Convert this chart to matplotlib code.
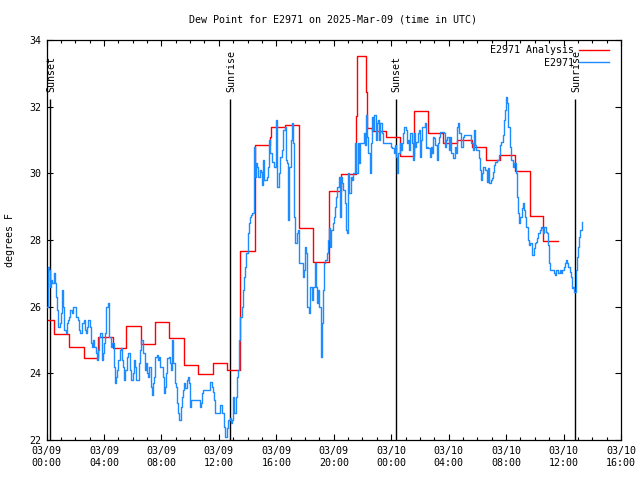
import numpy as np
import matplotlib
matplotlib.use("Agg")
import matplotlib.pyplot as plt

# E2971 dew point observations, 5 minute spacing from 03/09 00:00 UTC (one row per hour)
dew_obs = [
    26.0, 27.2, 27.1, 26.6, 26.8, 26.7, 27.0, 26.7, 26.3, 25.9, 25.4, 25.5,
    25.8, 26.5, 26.0, 25.3, 25.2, 25.5, 25.6, 25.7, 25.9, 25.8, 26.0, 26.0,
    26.0, 25.7, 25.6, 25.3, 25.2, 25.2, 25.5, 25.6, 25.3, 25.2, 25.4, 25.6,
    25.4, 24.9, 24.8, 25.0, 24.8, 24.6, 24.4, 24.7, 25.1, 25.2, 24.4, 24.6,
    24.9, 25.2, 26.0, 26.1, 25.1, 25.1, 24.8, 24.9, 24.2, 23.7, 23.9, 24.1,
    24.4, 24.7, 24.75, 24.4, 24.2, 23.8, 24.1, 24.5, 24.6, 24.6, 24.1, 23.8,
    24.0, 24.4, 24.2, 23.8, 23.8, 24.3, 24.7, 25.0, 25.0, 24.6, 24.1, 24.3,
    24.0, 23.9, 24.2, 23.6, 23.35, 23.7, 23.9, 24.5, 24.55, 24.4, 24.5, 24.2,
    24.2, 23.9, 23.4, 23.6, 24.0, 24.45, 24.5, 24.3, 24.1, 25.0, 24.3, 23.7,
    23.6, 23.1, 22.8, 22.6, 23.0, 23.3, 23.5, 23.7, 23.55, 23.8, 23.9, 23.7,
    23.0, 23.2, 23.2, 23.2, 23.2, 23.2, 23.2, 23.2, 23.0, 23.1, 23.4, 23.5,
    23.5, 23.5, 23.5, 23.5, 23.5, 23.75, 23.6, 23.45, 23.2, 22.8, 22.8, 22.8,
    22.8, 23.05, 23.05, 22.8, 22.4, 22.1, 22.1, 22.35, 22.6, 22.65, 22.5, 22.6,
    23.3, 22.8, 23.3, 23.9, 24.1, 25.0, 25.7, 26.0, 26.5, 26.9, 27.2, 27.6,
    28.2, 28.5, 28.7, 28.75, 28.8, 30.8, 29.9, 30.3, 30.2, 29.9, 30.1, 30.05,
    29.65, 30.4, 29.8, 29.8, 29.9, 30.2, 31.0, 30.6, 30.35, 30.35, 30.2, 30.2,
    31.6, 29.6, 30.0, 30.5, 30.5, 30.7, 31.3, 31.4, 30.4, 30.3, 28.6, 30.2,
    31.0, 31.5, 30.9, 28.7, 27.9, 28.2, 28.3, 27.3, 27.3, 27.3, 26.9, 27.1,
    27.8, 27.6, 26.0, 25.8, 26.6, 26.6, 26.2, 26.6, 27.3, 26.6, 26.1, 26.5,
    26.0, 24.5, 25.5, 26.5, 27.3, 27.4, 27.6, 28.0, 28.35, 27.8, 28.3, 28.5,
    28.7, 29.0, 29.3, 29.6, 29.9, 28.7, 29.9, 29.7, 29.5, 29.1, 28.3, 28.2,
    30.0, 29.4, 29.9, 29.8, 30.0, 30.0, 30.9, 30.0, 30.9, 30.3, 30.9, 30.9,
    30.9, 31.2, 30.85, 31.75, 31.1, 30.6, 30.0, 30.9, 31.7, 31.3, 31.75, 31.0,
    31.5, 31.6, 31.0, 31.5, 31.2, 30.9, 30.9, 30.9, 30.9, 30.9, 30.9, 30.9,
    30.8, 30.75, 30.6, 30.85, 30.5, 30.0, 30.6, 30.9, 30.7, 30.9, 31.2, 31.4,
    31.3, 30.9, 31.0, 30.7, 31.2, 30.9, 30.4, 31.2, 30.8, 30.95, 31.2, 31.3,
    30.5, 31.0, 31.4, 31.4, 31.5, 30.75, 30.8, 30.75, 30.5, 30.8, 30.6, 31.1,
    31.05, 30.85, 30.4, 30.9, 31.1, 31.25, 31.25, 31.25, 31.2, 30.8, 31.0, 31.1,
    30.7, 31.1, 30.6, 30.6, 30.45, 30.8, 30.6, 31.4, 31.5, 31.2, 30.8, 30.8,
    31.1, 31.15, 31.15, 31.15, 31.15, 31.15, 31.15, 30.9, 30.7, 31.3, 30.85, 30.7,
    30.7, 30.45, 30.1, 29.8, 30.0, 30.2, 30.1, 30.1, 29.75, 30.15, 29.7, 29.8,
    29.85, 30.05, 30.25, 30.35, 30.4, 30.4, 30.55, 30.85, 30.95, 31.15, 31.6, 31.9,
    32.3, 32.1, 31.4, 30.8, 30.4, 30.4, 30.2, 30.3, 30.0, 29.3, 28.8, 28.5,
    28.7, 28.95, 29.1, 28.9, 28.7, 28.4, 28.0, 27.85, 27.9, 27.9, 27.55, 27.75,
    27.9, 27.95, 28.05, 28.2, 28.3, 28.4, 28.35, 28.2, 28.4, 28.25, 28.2, 27.85,
    27.3, 27.1, 27.1, 27.1, 27.0, 26.95, 27.1, 27.0, 27.0, 27.1, 27.0, 27.1,
    27.2, 27.3, 27.4, 27.3, 27.2, 27.05, 26.9, 26.55, 26.6, 26.45, 27.1, 27.5,
    27.8, 28.1, 28.3, 28.55,
]
obs_step_min = 5

# analysis: step start times (hours since 03/09 00:00), last entry is the end
ana_times = [0, 0.55, 1.57, 2.6, 3.58, 4.62, 5.55, 6.6, 7.56, 8.55, 9.55, 10.54,
             11.56, 12.55, 13.5, 14.55, 15.55, 15.62, 16.6, 17.6, 18.56, 19.64,
             20.53, 21.53, 21.6, 22.27, 22.32, 22.69, 23.62, 24.59, 25.57, 26.56,
             27.6, 28.6, 29.65, 30.62, 31.55, 32.6, 33.64, 34.56, 35.6]
ana_vals = [25.59, 25.17, 24.78, 24.45, 25.08, 24.75, 25.43, 24.87, 25.53, 25.05,
            24.24, 23.97, 24.32, 24.09, 27.66, 30.84, 31.1, 31.38, 31.44, 28.37,
            27.33, 29.46, 29.97, 31.72, 33.52, 32.45, 31.37, 31.27, 31.1, 30.53,
            31.86, 31.2, 30.92, 31.0, 30.78, 30.4, 30.54, 30.07, 28.72, 27.97]

sun_times = [0.24, 12.79, 24.31, 36.79]
sun_labels = ["Sunset", "Sunrise", "Sunset", "Sunrise"]

x_ticks = [0, 4, 8, 12, 16, 20, 24, 28, 32, 36, 40]
x_labels = ["03/09\n00:00", "03/09\n04:00", "03/09\n08:00", "03/09\n12:00",
            "03/09\n16:00", "03/09\n20:00", "03/10\n00:00", "03/10\n04:00",
            "03/10\n08:00", "03/10\n12:00", "03/10\n16:00"]
y_ticks = [22, 24, 26, 28, 30, 32, 34]


def main():
    plt.rcParams['font.family'] = ['DejaVu Sans Mono']
    fs = 7.2

    fig = plt.figure(figsize=(6.4, 4.8), dpi=100)
    ax = fig.add_axes([46.5 / 640, 40 / 480, 574.5 / 640, 400 / 480])

    # sunrise / sunset markers
    for t, lab in zip(sun_times, sun_labels):
        ax.vlines(t, 22, 32.23, color='black', lw=1.0, zorder=1)
        ax.text(t + 0.08, 32.45, lab, rotation=90, ha='center', va='bottom',
                fontsize=fs, zorder=1)

    ax.plot(ana_times, ana_vals + [ana_vals[-1]], drawstyle='steps-post',
            color='#ff0000', lw=1.0, label='E2971 Analysis', zorder=2)

    obs_t = np.arange(len(dew_obs)) * obs_step_min / 60.0
    ax.plot(obs_t, dew_obs, drawstyle='steps-post', color='#1e8cff', lw=1.0,
            label='E2971', zorder=3)

    ax.set_xlim(0, 40)
    ax.set_ylim(22, 34)
    ax.set_xticks(x_ticks)
    ax.set_xticklabels(x_labels, fontsize=fs, linespacing=1.3)
    ax.set_xticks(range(0, 41), minor=True)
    ax.set_yticks(y_ticks)
    ax.set_yticklabels([str(v) for v in y_ticks], fontsize=fs)
    ax.tick_params(which='both', direction='in', top=True, right=True, width=0.8)
    ax.tick_params(which='major', length=4.5, pad=4)
    ax.tick_params(which='minor', length=2.5)
    for s in ax.spines.values():
        s.set_linewidth(0.9)

    ax.set_ylabel('degrees F', fontsize=fs)
    ax.yaxis.set_label_coords(-0.054, 0.5)
    fig.text(0.52, 0.96, 'Dew Point for E2971 on 2025-Mar-09 (time in UTC)',
             ha='center', va='center', fontsize=fs)

    ax.legend(loc='upper right', bbox_to_anchor=(0.992, 1.005), frameon=False,
              markerfirst=False, fontsize=fs, handlelength=3.0,
              handletextpad=0.5, labelspacing=0.25, borderaxespad=0.3)

    fig.savefig('out.png', dpi=100)


if __name__ == "__main__":
    main()
